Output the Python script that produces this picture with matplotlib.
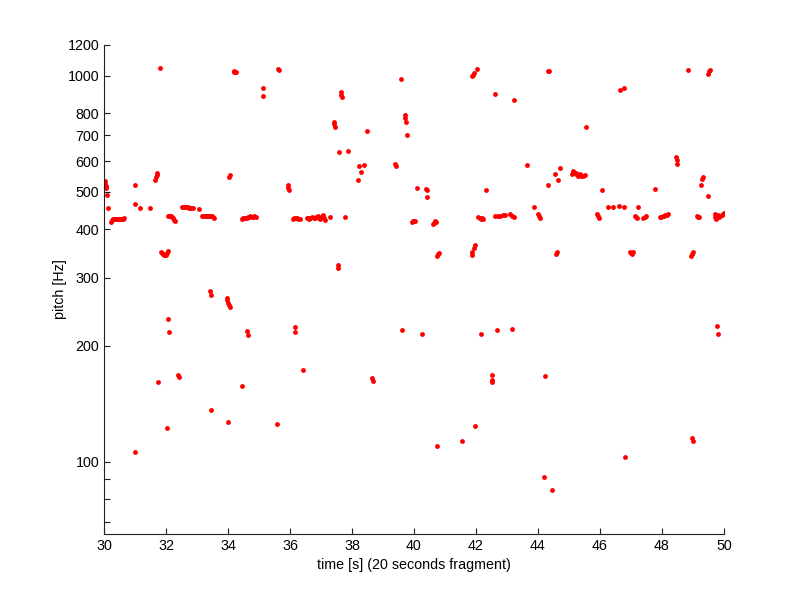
import matplotlib
matplotlib.use("Agg")
import matplotlib.pyplot as plt
import numpy as np

# (time [s], pitch [Hz])
points = [
    (30.02, 533), (30.04, 525), (30.05, 518), (30.07, 511), (30.11, 490), (30.14, 453),
    (30.22, 418), (30.25, 422), (30.28, 424), (30.31, 425), (30.34, 425), (30.37, 425),
    (30.40, 426), (30.43, 426), (30.46, 425), (30.49, 426), (30.52, 426), (30.55, 426),
    (30.58, 425), (30.62, 426), (30.66, 427),
    (30.99, 522), (31.01, 464), (31.16, 455), (31.48, 455), (31.01, 106),
    (31.66, 536), (31.68, 545), (31.70, 553), (31.72, 558), (31.81, 1044), (31.74, 161),
    (31.84, 350), (31.87, 347), (31.90, 345), (31.93, 344), (31.96, 343), (31.99, 344),
    (32.02, 347), (32.05, 351),
    (32.02, 122), (32.06, 234), (32.09, 217),
    (32.07, 432), (32.10, 434), (32.13, 433), (32.17, 432), (32.20, 430), (32.23, 427),
    (32.27, 422), (32.30, 419),
    (32.39, 168), (32.41, 166),
    (32.50, 456), (32.54, 458), (32.58, 458), (32.62, 457), (32.66, 456), (32.70, 456),
    (32.74, 455), (32.78, 455), (32.82, 454), (32.86, 454),
    (33.05, 450),
    (33.16, 432), (33.20, 433), (33.24, 433), (33.28, 433), (33.32, 433), (33.36, 433),
    (33.40, 433), (33.44, 432), (33.48, 432), (33.52, 431), (33.56, 428),
    (33.43, 276), (33.46, 271), (33.46, 136),
    (33.96, 266), (33.98, 262), (34.00, 258), (34.02, 255), (34.05, 251),
    (34.01, 127), (34.03, 546), (34.05, 553),
    (34.18, 1028), (34.20, 1024), (34.22, 1020), (34.25, 1022),
    (34.44, 425), (34.48, 427), (34.52, 428), (34.56, 429), (34.60, 429), (34.64, 430),
    (34.68, 431), (34.72, 432), (34.76, 430), (34.80, 431), (34.85, 432), (34.90, 430),
    (34.46, 157), (34.60, 218), (34.63, 213),
    (35.14, 930), (35.14, 885), (35.57, 125),
    (35.62, 1040), (35.66, 1035),
    (35.93, 520), (35.95, 512), (35.97, 505),
    (36.10, 425), (36.14, 427), (36.18, 428), (36.22, 427), (36.27, 426), (36.32, 425),
    (36.54, 428), (36.58, 427), (36.62, 426), (36.66, 428), (36.70, 430), (36.76, 428),
    (36.80, 427), (36.85, 430), (36.90, 433), (36.94, 428), (36.98, 425), (37.02, 430),
    (37.06, 436), (37.10, 428), (37.13, 422), (37.29, 430), (37.77, 430),
    (36.16, 223), (36.17, 217), (36.43, 173),
    (37.41, 760), (37.43, 748), (37.45, 737), (37.54, 323), (37.55, 317), (37.57, 635),
    (37.63, 905), (37.65, 890), (37.67, 880), (37.86, 638),
    (38.20, 536), (38.24, 583), (38.28, 563), (38.39, 588), (38.47, 720),
    (38.66, 165), (38.68, 162),
    (39.39, 590), (39.42, 583), (39.57, 978), (39.60, 219),
    (39.70, 790), (39.71, 775), (39.73, 760), (39.78, 702),
    (39.92, 418), (39.96, 419), (40.00, 420), (40.04, 421), (40.11, 512), (40.25, 214),
    (40.39, 510), (40.41, 505), (40.43, 486),
    (40.62, 412), (40.65, 416), (40.68, 420), (40.71, 418),
    (40.75, 342), (40.78, 345), (40.82, 348), (40.75, 110),
    (41.54, 113), (41.86, 995), (41.90, 1005), (41.95, 1015), (42.04, 1040),
    (41.86, 343), (41.88, 350), (41.92, 357), (41.96, 364), (41.98, 124),
    (42.08, 430), (42.12, 428), (42.16, 425), (42.20, 428), (42.23, 426),
    (42.16, 214), (42.31, 505),
    (42.50, 168), (42.51, 163), (42.52, 161), (42.61, 894), (42.67, 219),
    (42.61, 434), (42.70, 434), (42.77, 434), (42.88, 435), (42.94, 435),
    (43.10, 437), (43.15, 433), (43.24, 430),
    (43.15, 221), (43.22, 865), (43.65, 586), (43.87, 456),
    (44.00, 438), (44.03, 432), (44.06, 428),
    (44.20, 91.4), (44.23, 167), (44.31, 521), (44.33, 1030), (44.35, 1025), (44.44, 84.5),
    (44.55, 555), (44.58, 345), (44.61, 349), (44.66, 535), (44.70, 575),
    (45.10, 555), (45.13, 565), (45.17, 560), (45.21, 558), (45.26, 552), (45.30, 548),
    (45.35, 555), (45.40, 550), (45.45, 548), (45.50, 553),
    (45.54, 735), (45.90, 437), (45.93, 432), (45.96, 428), (46.05, 505),
    (46.27, 458), (46.43, 457), (46.60, 459), (46.65, 918), (46.77, 930), (46.78, 456),
    (46.81, 103),
    (46.97, 350), (47.00, 347), (47.03, 345), (47.05, 349),
    (47.13, 432), (47.17, 430), (47.20, 428), (47.21, 458), (47.40, 427), (47.44, 430),
    (47.48, 433),
    (47.77, 508), (47.94, 430), (47.98, 431), (48.02, 433), (48.06, 434), (48.10, 435),
    (48.15, 436), (48.20, 437),
    (48.45, 615), (48.47, 603), (48.49, 590), (48.85, 1034),
    (48.95, 341), (48.98, 345), (49.01, 349), (48.98, 115), (48.99, 113),
    (49.12, 433), (49.16, 431), (49.20, 430), (49.26, 522), (49.30, 540), (49.33, 547),
    (49.47, 489), (49.49, 1010), (49.52, 1025), (49.55, 1035),
    (49.70, 438), (49.72, 430), (49.74, 425), (49.76, 432), (49.80, 435), (49.84, 430),
    (49.88, 433), (49.92, 436), (49.96, 438), (49.99, 440),
    (49.78, 225), (49.82, 214),
]
time_s = [p[0] for p in points]
pitch_hz = [p[1] for p in points]

x_ticks = [30, 32, 34, 36, 38, 40, 42, 44, 46, 48, 50]
y_ticks = [70, 80, 90, 100, 200, 300, 400, 500, 600, 700, 800, 1000, 1200]
y_ticklabels = ["", "", "", "100", "200", "300", "400", "500", "600", "700", "800", "1000", "1200"]

plt.rcParams['font.family'] = ['Liberation Sans', 'DejaVu Sans']

fig = plt.figure(figsize=(8, 6), dpi=100)
ax = fig.add_axes([0.13, 0.11, 0.775, 0.815])
ax.plot(time_s, pitch_hz, linestyle='none', marker='o', color='#ff0000',
        markersize=3.5, markeredgewidth=0)
ax.set_yscale('log')
ax.set_xlim(30, 50)
ax.set_ylim(65, 1200)
ax.set_xticks(x_ticks)
ax.set_xticklabels([str(v) for v in x_ticks])
ax.set_yticks(y_ticks)
ax.set_yticklabels(y_ticklabels)
ax.yaxis.set_minor_locator(matplotlib.ticker.NullLocator())
ax.tick_params(direction='in', length=4, width=0.8, labelsize=10.3, colors='#222222')
ax.tick_params(axis='both', labelcolor='black')
for s in ['top', 'right']:
    ax.spines[s].set_visible(False)
for s in ['left', 'bottom']:
    ax.spines[s].set_color('#222222')
    ax.spines[s].set_linewidth(0.8)
ax.set_xlabel('time [s] (20 seconds fragment)', fontsize=10.3, labelpad=4)
ax.set_ylabel('pitch [Hz]', fontsize=10.3, labelpad=0)
fig.savefig('out.png', dpi=100)
